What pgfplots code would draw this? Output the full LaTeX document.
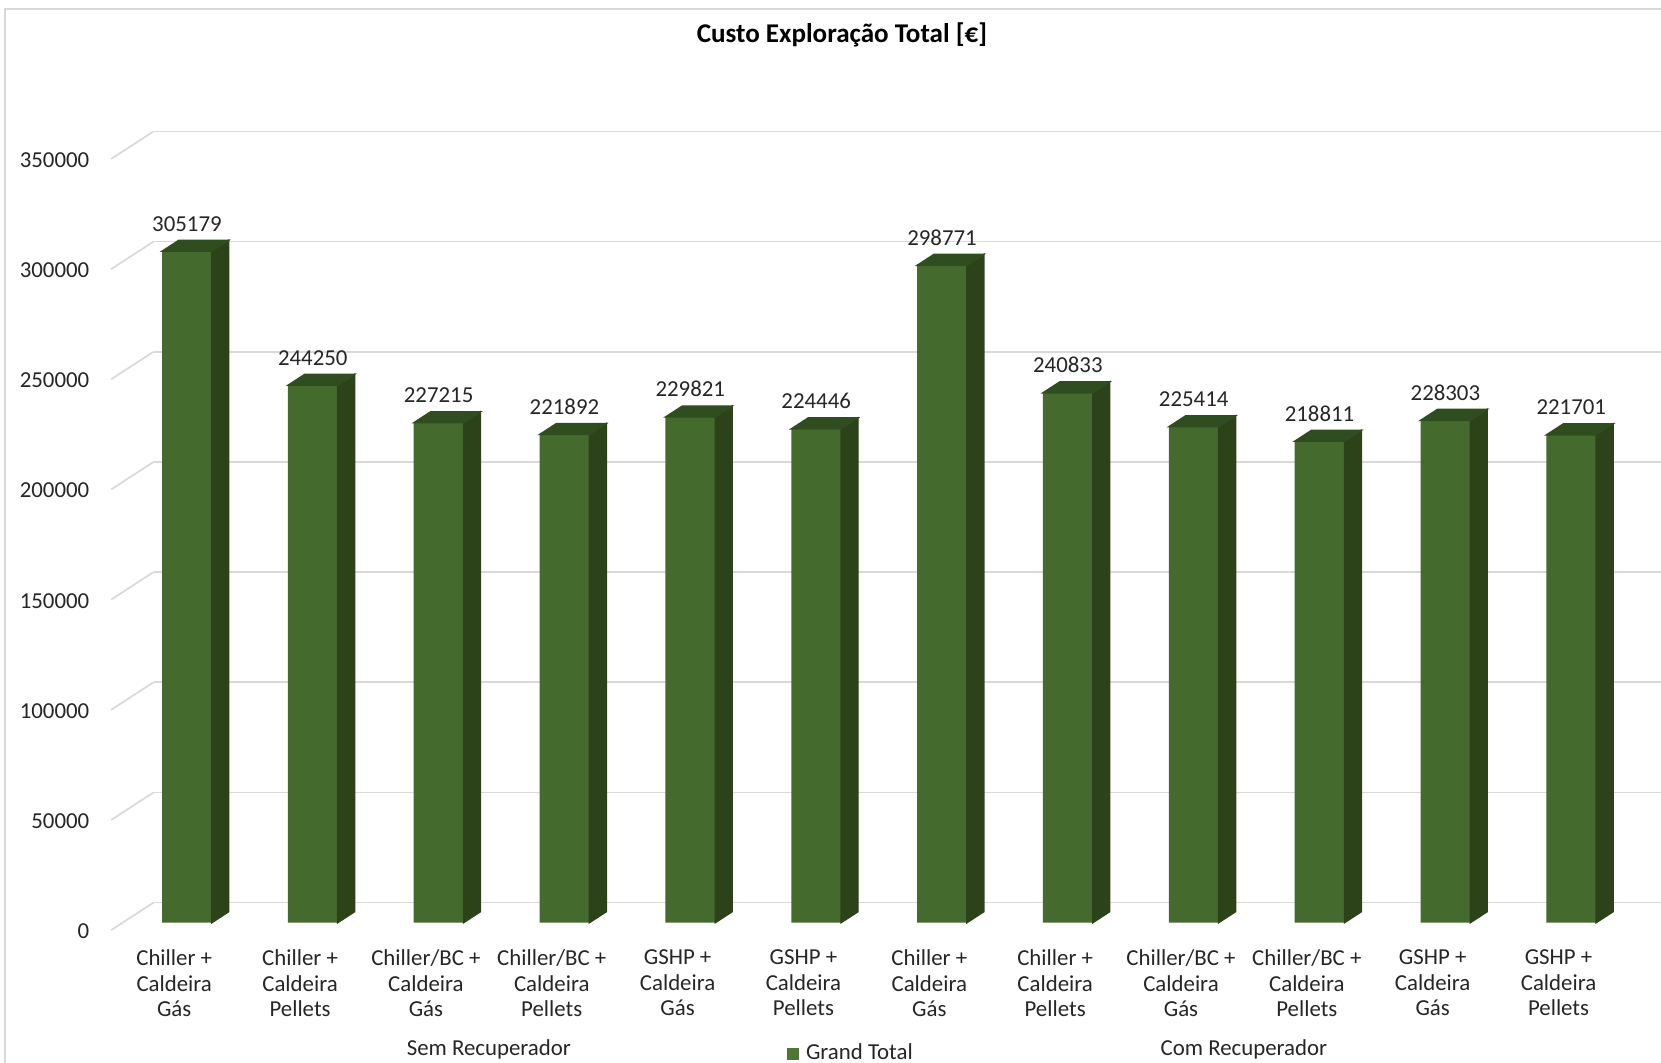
\documentclass[border=0pt]{standalone}
\usepackage{pgfplots}
\usepackage{pgfplotstable}
\pgfplotsset{compat=1.18}
\usepackage{fontspec}
\setmainfont{Carlito}
\definecolor{barfront}{HTML}{456A2D}
\definecolor{barside}{HTML}{2C4319}
\definecolor{bartop}{HTML}{304D1F}
\definecolor{legsq}{HTML}{4F7734}
\definecolor{gridc}{HTML}{D9D9D9}
\definecolor{txt}{HTML}{262626}
\def\u{0.010593cm}
\pgfdeclareplotmark{empty3d}{}
\newcommand\lblfont{\fontsize{6.5}{7.2}\selectfont}

\pgfplotstableread{
x y
0 305179
1 244250
2 227215
3 221892
4 229821
5 224446
6 298771
7 240833
8 225414
9 218811
10 228303
11 221701
}\costdata

\begin{document}
\begin{tikzpicture}
\useasboundingbox (0,0) rectangle (16.61cm,10.625cm);
\draw[gridc, line width=0.5pt] (4.4*\u,-1cm) -- (4.4*\u,995*\u) -- (18cm,995*\u);
\node[font=\fontsize{7.7}{9}\selectfont\bfseries, text=black, anchor=base] at (795*\u,963*\u) {Custo Exploração Total [€]};

% back wall with gridlines
\begin{axis}[
  at={(145*\u,151*\u)}, anchor=south west, scale only axis,
  width=15.074cm, height=7.712cm,
  xmin=0, xmax=1, ymin=0, ymax=350000,
  axis line style={draw=none},
  xtick=\empty,
  ytick={0,50000,100000,150000,200000,250000,300000,350000},
  yticklabels={0,50000,100000,150000,200000,250000,300000,350000},
  ymajorgrids, grid style={gridc, line width=0.5pt},
  major tick length=0pt,
  scaled y ticks=false,
  yticklabel style={font=\lblfont, text=txt, inner sep=0pt, anchor=east, xshift=-60*\u, yshift=-27*\u},
  clip=false,
]
\pgfplotsinvokeforeach{0,50000,100000,150000,200000,250000,300000,350000}{
  \draw[gridc, line width=0.5pt] (axis cs:0,#1) -- ++(-40*\u,-26*\u);
}
\end{axis}

% front: bars
\begin{axis}[
  at={(145*\u,132*\u)}, anchor=south west, scale only axis,
  width=15.074cm, height=7.701cm,
  xmin=-0.2652, xmax=11.713, ymin=0, ymax=350000,
  axis line style={draw=none},
  ytick=\empty,
  xtick={0,1,2,3,4,5,6,7,8,9,10,11},
  xticklabels={{Chiller +\\Caldeira\\Gás},{Chiller +\\Caldeira\\Pellets},{Chiller/BC +\\Caldeira\\Gás},{Chiller/BC +\\Caldeira\\Pellets},{GSHP +\\Caldeira\\Gás},{GSHP +\\Caldeira\\Pellets},{Chiller +\\Caldeira\\Gás},{Chiller +\\Caldeira\\Pellets},{Chiller/BC +\\Caldeira\\Gás},{Chiller/BC +\\Caldeira\\Pellets},{GSHP +\\Caldeira\\Gás},{GSHP +\\Caldeira\\Pellets}},
  major tick length=0pt,
  xticklabel style={font=\lblfont, text=txt, align=center, inner sep=0pt, anchor=north, xshift=-12*\u, yshift=-25*\u},
  clip=false,
  legend style={draw=none, fill=none, inner sep=0pt, outer sep=0pt, font=\lblfont, text=txt,
    at={(0.4202,-0.1705)}, anchor=west, nodes={inner sep=0pt},
    /tikz/every odd column/.style={column sep=7*\u}},
]
\addplot[ybar, bar width=0.4979cm, fill=barfront, draw=none,
  point meta=explicit symbolic, nodes near coords,
  every node near coord/.append style={font=\lblfont, text=txt, inner sep=0pt, anchor=base, yshift=19*\u},
  legend image code/.code={\fill[legsq] (0cm,-0.0583cm) rectangle (0.1165cm,0.0583cm);}]
  table[x=x, y=y, meta=y] {\costdata};
\addlegendentry{Grand Total}

\addplot[scatter, only marks, mark=empty3d, forget plot,
  point meta=explicit symbolic,
  scatter/@pre marker code/.code={%
    \edef\ry{\pgfplotspointmeta}%
    \begingroup\pgfkeys{/pgf/fpu=true,/pgf/fpu/output format=fixed}%
    \pgfmathparse{\ry*0.0000220029}\xdef\hcm{\pgfmathresult}\endgroup
    \fill[barside] (0.24895cm,0cm) -- (0.41845cm,0.1102cm) -- (0.41845cm,0.1102cm-\hcm cm) -- (0.24895cm,-\hcm cm) -- cycle;
    \fill[bartop] (-0.24895cm,0cm) -- (-0.07945cm,0.1102cm) -- (0.41845cm,0.1102cm) -- (0.24895cm,0cm) -- cycle;
  },
  scatter/@post marker code/.code={}]
  table[x=x, y=y, meta=y] {\costdata};

\node[font=\lblfont, text=txt, anchor=base, xshift=-12*\u, yshift=-125*\u] at (axis cs:2.5,0) {Sem Recuperador};
\node[font=\lblfont, text=txt, anchor=base, xshift=-12*\u, yshift=-125*\u] at (axis cs:8.5,0) {Com Recuperador};
\end{axis}
\end{tikzpicture}
\end{document}
